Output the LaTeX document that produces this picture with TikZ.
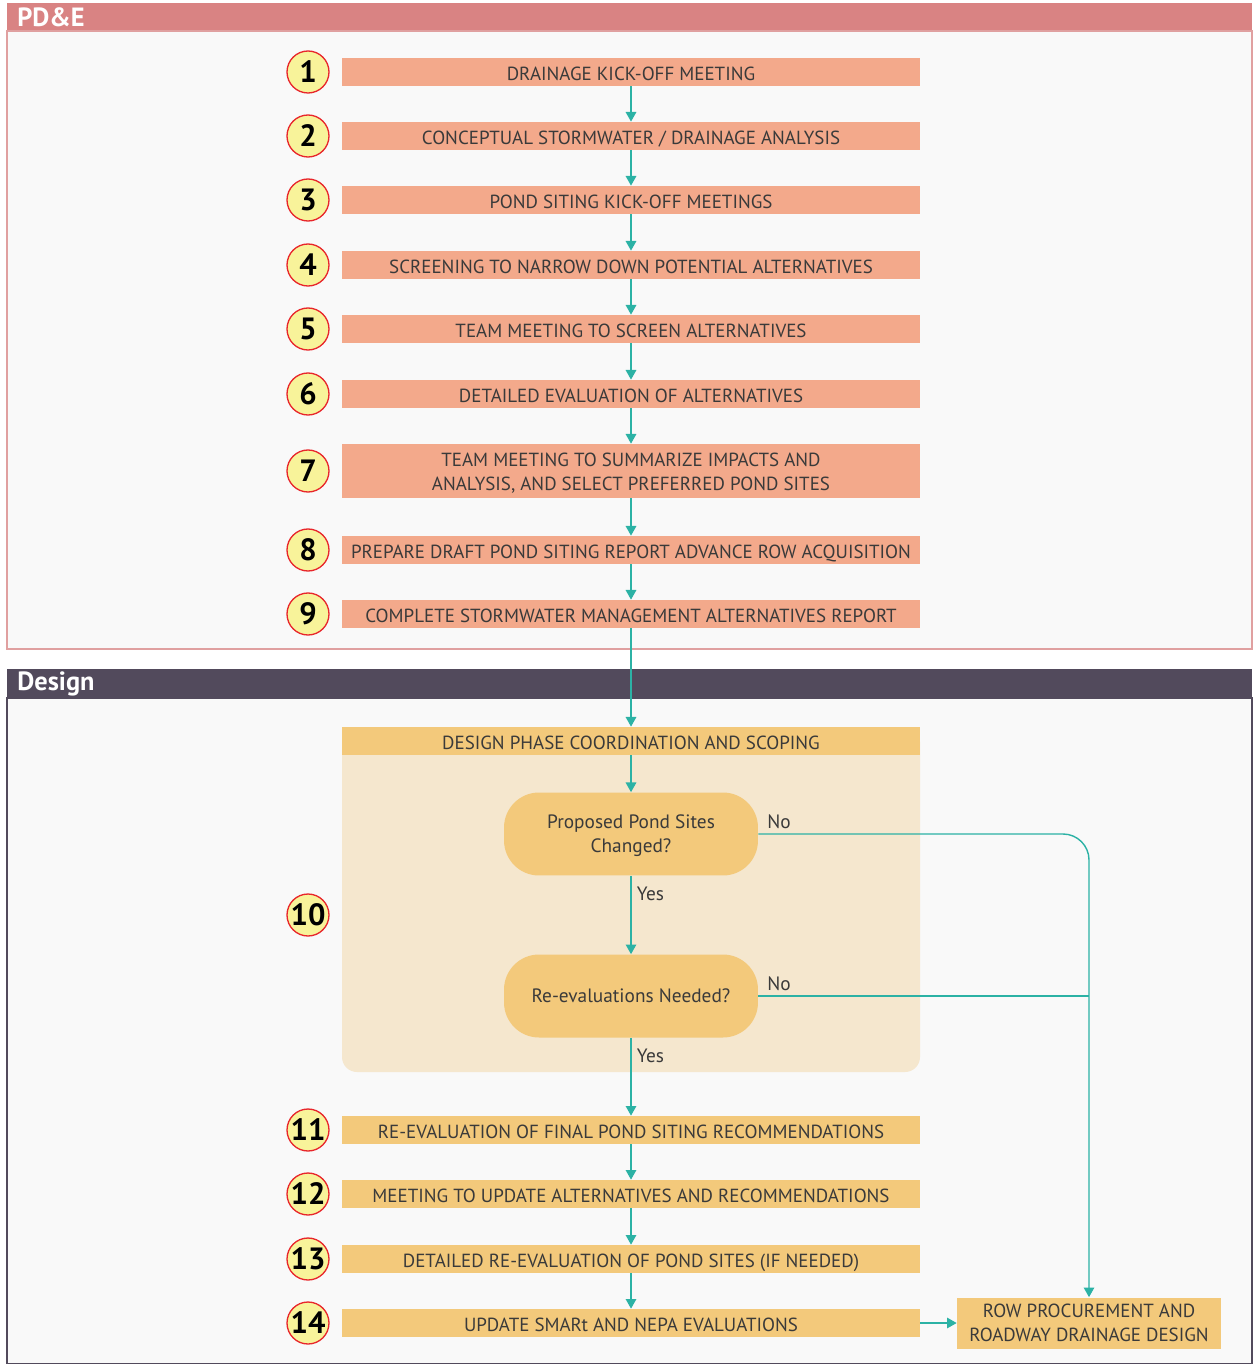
\documentclass[tikz,border=0pt]{standalone}
\usepackage{fontspec}
\setmainfont{PT Sans}
\usetikzlibrary{arrows.meta}
\definecolor{pdhead}{HTML}{D98383}
\definecolor{pdline}{HTML}{E0A0A0}
\definecolor{dshead}{HTML}{524A5C}
\definecolor{panel}{HTML}{F9F9F9}
\definecolor{salmon}{HTML}{F3A98B}
\definecolor{gold}{HTML}{F3C97B}
\definecolor{cream}{HTML}{F5E7CE}
\definecolor{badge}{HTML}{F8F39A}
\definecolor{badgeline}{HTML}{E8262B}
\definecolor{teal}{HTML}{2CB2A5}
\definecolor{ink}{HTML}{3A3A3A}

\begin{document}
\begin{tikzpicture}[x=0.02cm, y=-0.02cm, >={Triangle[width=6pt, length=5.5pt]},
    pdbox/.style={fill=salmon, minimum width=11.56cm, minimum height=0.56cm, inner sep=0pt,
        text=ink, align=center, text height=0.96em, text depth=0pt,
        font=\fontsize{10.8}{13.6}\selectfont},
    dsbox/.style={pdbox, fill=gold},
    askbox/.style={fill=gold, rounded corners=0.7cm, minimum width=5.08cm, minimum height=1.66cm,
        inner sep=0pt, text=ink, align=center, text height=0.7em, text depth=0pt,
        font=\fontsize{11}{13.8}\selectfont},
    num/.style={circle, fill=badge, draw=badgeline, line width=0.75pt, minimum size=0.84cm,
        inner sep=0pt, font=\fontsize{17.5}{18}\selectfont\bfseries},
    headtext/.style={text=white, anchor=west, inner sep=0pt, font=\fontsize{15}{16}\selectfont\bfseries},
    flow/.style={->, draw=teal, line width=0.8pt},
    answer/.style={text=ink, inner sep=3pt, font=\fontsize{11}{12}\selectfont}]
    \useasboundingbox (0,0) rectangle (1252,1364);
    \fill[white] (0,0) rectangle (1252,1364);

    % PD&E phase
    \fill[pdhead] (7,3) rectangle (1252,31);
    \draw[pdline, fill=panel, line width=0.6pt] (7,31) rectangle (1252,649);
    \node[headtext] (pdtitle) at (17,17) {PD\&E};

    \node[pdbox] (s1) at (631,72) {DRAINAGE KICK-OFF MEETING};
    \node[pdbox] (s2) at (631,136) {CONCEPTUAL STORMWATER / DRAINAGE ANALYSIS};
    \node[pdbox] (s3) at (631,200) {POND SITING KICK-OFF MEETINGS};
    \node[pdbox] (s4) at (631,265) {SCREENING TO NARROW DOWN POTENTIAL ALTERNATIVES};
    \node[pdbox] (s5) at (631,329) {TEAM MEETING TO SCREEN ALTERNATIVES};
    \node[pdbox] (s6) at (631,394) {DETAILED EVALUATION OF ALTERNATIVES};
    \node[pdbox, minimum height=1.08cm, text height=22.4pt] (s7) at (631,471) {TEAM MEETING TO SUMMARIZE IMPACTS AND\\ANALYSIS, AND SELECT PREFERRED POND SITES};
    \node[pdbox] (s8) at (631,550) {PREPARE DRAFT POND SITING REPORT ADVANCE ROW ACQUISITION};
    \node[pdbox] (s9) at (631,614) {COMPLETE STORMWATER MANAGEMENT ALTERNATIVES REPORT};

    \node[num] (n1) at (308,72) {1};
    \node[num] (n2) at (308,136) {2};
    \node[num] (n3) at (308,200) {3};
    \node[num] (n4) at (308,265) {4};
    \node[num] (n5) at (308,329) {5};
    \node[num] (n6) at (308,394) {6};
    \node[num] (n7) at (308,471) {7};
    \node[num] (n8) at (308,550) {8};
    \node[num] (n9) at (308,614) {9};

    % Design phase
    \fill[dshead] (7,669) rectangle (1252,698);
    \draw[dshead, fill=panel, line width=0.6pt] (7,698) rectangle (1252,1364);
    \node[headtext] (dstitle) at (17,684) {Design};

    \fill[cream, rounded corners=0.3cm] (342,727) rectangle (920,1072);
    \node[dsbox] (dp) at (631,741) {DESIGN PHASE COORDINATION AND SCOPING};
    \node[askbox, text height=21.5pt] (d1) at (631,834) {Proposed Pond Sites\\Changed?};
    \node[askbox] (d2) at (631,996) {Re-evaluations Needed?};
    \node[num] (n10) at (308,915) {10};

    \node[dsbox] (s11) at (631,1130) {RE-EVALUATION OF FINAL POND SITING RECOMMENDATIONS};
    \node[dsbox] (s12) at (631,1194) {MEETING TO UPDATE ALTERNATIVES AND RECOMMENDATIONS};
    \node[dsbox] (s13) at (631,1259) {DETAILED RE-EVALUATION OF POND SITES (IF NEEDED)};
    \node[dsbox] (s14) at (631,1323) {UPDATE SMARt AND NEPA EVALUATIONS};
    \node[dsbox, minimum width=5.28cm, minimum height=1.02cm, text height=21.3pt] (row) at (1089,1323) {ROW PROCUREMENT AND\\ROADWAY DRAINAGE DESIGN};

    \node[num] (n11) at (308,1130) {11};
    \node[num] (n12) at (308,1194) {12};
    \node[num] (n13) at (308,1259) {13};
    \node[num] (n14) at (308,1323) {14};

    % connectors
    \draw[flow] (s1) -- (s2);
    \draw[flow] (s2) -- (s3);
    \draw[flow] (s3) -- (s4);
    \draw[flow] (s4) -- (s5);
    \draw[flow] (s5) -- (s6);
    \draw[flow] (s6) -- (s7);
    \draw[flow] (s7) -- (s8);
    \draw[flow] (s8) -- (s9);
    \draw[flow] (s9) -- (dp);
    \draw[flow] (dp) -- (d1);
    \draw[flow] (d1) -- (d2) node[answer, pos=0, below right, yshift=-3pt] {Yes};
    \draw[flow] (d2) -- (s11) node[answer, pos=0, below right, yshift=-3pt] {Yes};
    \draw[flow, rounded corners=0.52cm] (d1.east) -| (row.north);
    \node[answer, above right, xshift=2pt] (no1) at (d1.east) {No};
    \draw[draw=teal, line width=0.8pt] (d2.east) -- (d2.east -| row.north);
    \node[answer, above right, xshift=2pt] (no2) at (d2.east) {No};
    \draw[flow] (s11) -- (s12);
    \draw[flow] (s12) -- (s13);
    \draw[flow] (s13) -- (s14);
    \draw[flow] (s14) -- (row);
\end{tikzpicture}
\end{document}
